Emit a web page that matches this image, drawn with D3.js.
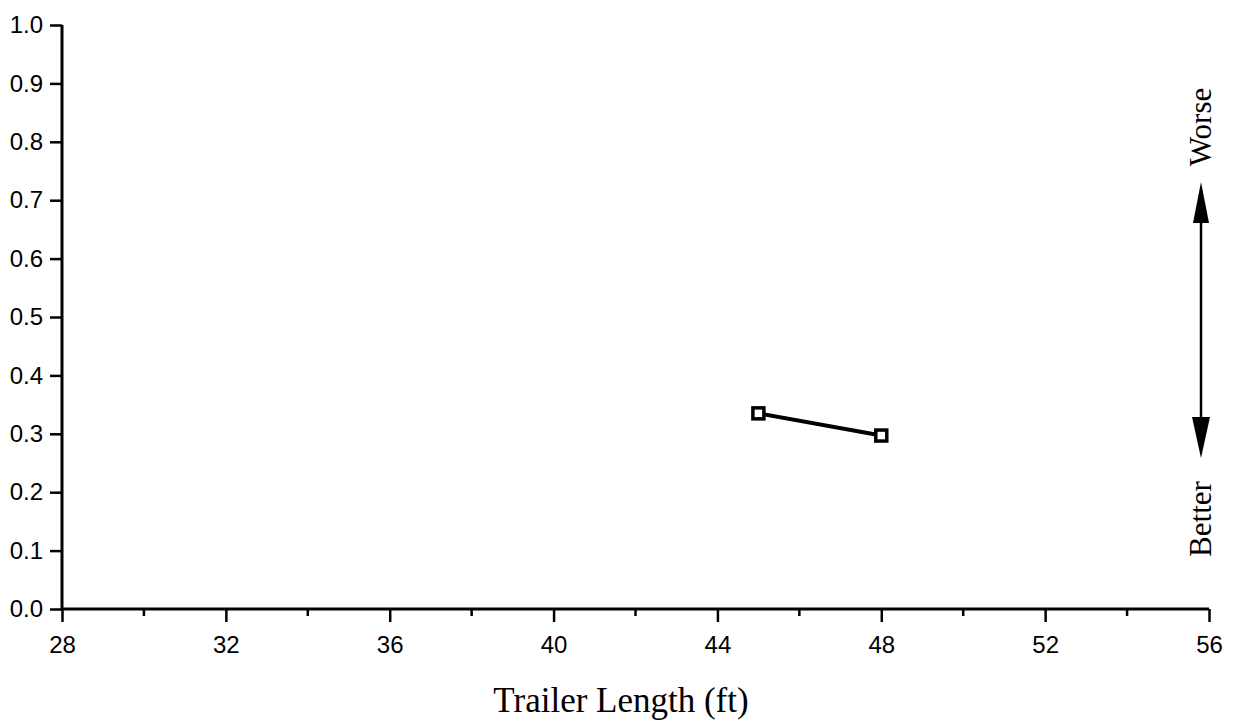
<!DOCTYPE html>
<html>
<head>
<meta charset="utf-8">
<script src="https://cdn.jsdelivr.net/npm/d3@7"></script>
<style>
  body { margin: 0; background: #fff; }
</style>
</head>
<body>
<div class="chart"></div>
<script>
// data
var trailerLength = [45, 48];
var indexValue = [0.335, 0.297];
var xTicks = [28, 32, 36, 40, 44, 48, 52, 56];
var xMinorTicks = [30, 34, 38, 42, 46, 50, 54];
var yTicks = [0, 0.1, 0.2, 0.3, 0.4, 0.5, 0.6, 0.7, 0.8, 0.9, 1.0];

var W = 1234, H = 728;

var svg = d3.select(".chart")
    .append("svg")
    .attr("width", W)
    .attr("height", H);

var x = d3.scaleLinear().domain([28, 56]).range([62, 1209]);
var y = d3.scaleLinear().domain([0, 1]).range([609, 25]);

// X axis (major ticks)
var xAxis = svg.append("g")
    .attr("transform", "translate(0," + y(0) + ")")
    .call(d3.axisBottom(x).tickValues(xTicks).tickSize(13).tickPadding(14).tickFormat(d3.format("d")));

// minor ticks
xAxis.selectAll(".minor")
    .data(xMinorTicks)
    .enter()
    .append("line")
    .attr("class", "minor")
    .attr("x1", function (d) { return x(d); })
    .attr("x2", function (d) { return x(d); })
    .attr("y1", 0)
    .attr("y2", 7)
    .attr("stroke", "#000")
    .attr("stroke-width", 2.5);

// Y axis
var yAxis = svg.append("g")
    .attr("transform", "translate(" + x(28) + ",0)")
    .call(d3.axisLeft(y).tickValues(yTicks).tickSize(12).tickPadding(7).tickFormat(d3.format(".1f")));

[xAxis, yAxis].forEach(function (ax) {
    ax.attr("font-family", "'Liberation Sans', Arial, sans-serif").attr("font-size", 24);
    ax.select(".domain").attr("stroke", "#000").attr("stroke-width", 3);
    ax.selectAll(".tick line").attr("stroke", "#000").attr("stroke-width", 2.5);
    ax.selectAll(".tick text").attr("fill", "#000");
});
// remove outer tick stubs drawn by the domain path
xAxis.select(".domain").attr("d", "M" + x(28) + ",0H" + x(56));
yAxis.select(".domain").attr("d", "M0," + y(0) + "V" + y(1));

// X axis title
svg.append("text")
    .attr("x", 621)
    .attr("y", 712)
    .attr("text-anchor", "middle")
    .style("font-family", "'Liberation Serif', 'Times New Roman', serif")
    .style("font-size", "35px")
    .text("Trailer Length (ft)");

// line + markers
var pts = trailerLength.map(function (d, i) { return { x: d, y: indexValue[i] }; });

var line = d3.line()
    .x(function (d) { return x(d.x); })
    .y(function (d) { return y(d.y); });

svg.append("path")
    .datum(pts)
    .attr("d", line)
    .attr("fill", "none")
    .attr("stroke", "#000")
    .attr("stroke-width", 4);

var size = 11;
svg.selectAll("mymarkers")
    .data(pts)
    .enter()
    .append("rect")
    .attr("x", function (d) { return x(d.x) - size / 2; })
    .attr("y", function (d) { return y(d.y) - size / 2; })
    .attr("width", size)
    .attr("height", size)
    .attr("fill", "#fff")
    .attr("stroke", "#000")
    .attr("stroke-width", 3.5);

// Better / Worse arrow
var ax = 1201;
svg.append("line")
    .attr("x1", ax).attr("x2", ax)
    .attr("y1", 215).attr("y2", 425)
    .attr("stroke", "#000")
    .attr("stroke-width", 2.5);
svg.append("path")
    .attr("d", "M" + ax + ",182L" + (ax - 8) + ",223L" + (ax + 8) + ",223Z")
    .attr("fill", "#000");
svg.append("path")
    .attr("d", "M" + ax + ",458L" + (ax - 9) + ",417L" + (ax + 9) + ",417Z")
    .attr("fill", "#000");

svg.append("text")
    .attr("transform", "translate(" + (ax + 10) + ",127) rotate(-90)")
    .attr("text-anchor", "middle")
    .style("font-family", "'Liberation Serif', 'Times New Roman', serif")
    .style("font-size", "31px")
    .text("Worse");

svg.append("text")
    .attr("transform", "translate(" + (ax + 10) + ",519) rotate(-90)")
    .attr("text-anchor", "middle")
    .style("font-family", "'Liberation Serif', 'Times New Roman', serif")
    .style("font-size", "31px")
    .text("Better");
</script>
</body>
</html>
